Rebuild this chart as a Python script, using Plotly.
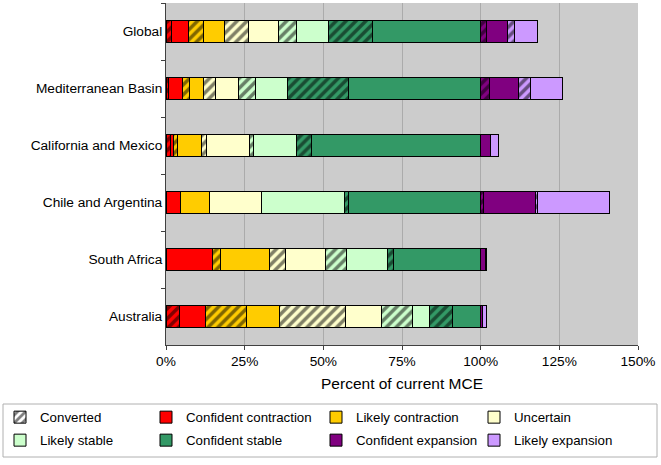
import plotly.graph_objects as go

categories = ["Global", "Mediterranean Basin", "California and Mexico",
              "Chile and Argentina", "South Africa", "Australia"]

conf_contraction_conv = [1.7, 0.9, 1.4, 0.0, 0.0, 4.3]
conf_contraction = [5.3, 4.5, 0.9, 4.7, 14.9, 8.3]
likely_contraction_conv = [4.8, 2.1, 1.2, 0.0, 2.4, 12.9]
likely_contraction = [6.7, 4.5, 7.7, 9.1, 15.6, 10.7]
uncertain_conv = [7.6, 3.7, 1.8, 0.0, 5.1, 20.9]
uncertain = [9.5, 7.4, 13.5, 16.5, 12.7, 11.4]
likely_stable_conv = [5.9, 5.5, 1.2, 0.0, 6.6, 9.7]
likely_stable = [10.0, 10.1, 13.7, 26.5, 13.0, 5.5]
conf_stable_conv = [14.0, 19.4, 4.8, 1.1, 2.1, 7.5]
conf_stable = [34.5, 41.9, 53.8, 42.1, 27.6, 8.8]
conf_expansion_conv = [1.8, 2.9, 0.0, 1.0, 0.0, 0.0]
conf_expansion = [6.6, 9.2, 3.0, 16.4, 1.5, 0.6]
likely_expansion_conv = [2.4, 3.7, 0.0, 0.7, 0.0, 0.0]
likely_expansion = [7.3, 10.1, 2.8, 22.9, 0.5, 1.2]

tick_vals = [0, 25, 50, 75, 100, 125, 150]
tick_text = ["0%", "25%", "50%", "75%", "100%", "125%", "150%"]

# (name, colour, converted part, remaining part, legend slot)
classes = [
    ("Confident contraction", "#FF0000", conf_contraction_conv, conf_contraction, "legend2"),
    ("Likely contraction", "#FFCC00", likely_contraction_conv, likely_contraction, "legend3"),
    ("Uncertain", "#FFFFCC", uncertain_conv, uncertain, "legend4"),
    ("Likely stable", "#CCFFCC", likely_stable_conv, likely_stable, "legend5"),
    ("Confident stable", "#339966", conf_stable_conv, conf_stable, "legend6"),
    ("Confident expansion", "#800080", conf_expansion_conv, conf_expansion, "legend7"),
    ("Likely expansion", "#CC99FF", likely_expansion_conv, likely_expansion, "legend8"),
]

def nz(arr):
    return [v if v else None for v in arr]

fig = go.Figure()
line = dict(color="black", width=1)
pattern = dict(shape="/", fgcolor="black", size=7, solidity=0.5)

# legend-only entry for the converted hatch
fig.add_trace(go.Bar(
    y=categories, x=[None] * len(categories), orientation="h", name="Converted",
    marker=dict(color="white", line=line, pattern=pattern), legend="legend",
))

for name, color, conv, solid, leg in classes:
    fig.add_trace(go.Bar(
        y=categories, x=nz(conv), orientation="h", name=name + " (converted)",
        marker=dict(color=color, line=line, pattern=pattern), showlegend=False,
    ))
    fig.add_trace(go.Bar(
        y=categories, x=nz(solid), orientation="h", name=name,
        marker=dict(color=color, line=line), legend=leg,
    ))

W, H = 661, 465
ML, MR, MT, MB = 166, 23, 3, 120
PW, PH = W - ML - MR, H - MT - MB

leg_font = dict(size=13.3, color="black")
col_x = [0, 146, 316, 474]
row_top = [402, 425]

def leg(col, row):
    return dict(
        orientation="v", xref="container", yref="container",
        x=col_x[col] / W, xanchor="left", y=1 - row_top[row] / H, yanchor="top",
        borderwidth=0, bgcolor="rgba(0,0,0,0)", font=leg_font, itemwidth=30,
    )

fig.update_layout(
    width=W, height=H,
    barmode="stack", bargap=0.61,
    paper_bgcolor="white", plot_bgcolor="#CCCCCC",
    font=dict(family="Liberation Sans, Arial, sans-serif", size=13.7, color="black"),
    margin=dict(l=ML, r=MR, t=MT, b=MB, autoexpand=False),
    showlegend=True,
    legend=leg(0, 0), legend2=leg(1, 0), legend3=leg(2, 0), legend4=leg(3, 0),
    legend5=leg(0, 1), legend6=leg(1, 1), legend7=leg(2, 1), legend8=leg(3, 1),
    xaxis=dict(
        range=[0, 150], tickvals=tick_vals, ticktext=tick_text,
        showgrid=True, gridcolor="#ABABAB", gridwidth=1,
        showline=True, linecolor="#404040", linewidth=1,
        ticks="outside", ticklen=4, tickcolor="#404040",
        title=dict(text="Percent of current MCE", standoff=9, font=dict(size=15.5)),
        zeroline=False, fixedrange=True, automargin=False,
    ),
    yaxis=dict(
        categoryorder="array", categoryarray=categories, autorange="reversed",
        showline=True, linecolor="#404040", linewidth=1,
        ticks="outside", ticklen=4, tickcolor="#404040", tickson="boundaries",
        showgrid=False, fixedrange=True, automargin=False,
    ),
    shapes=[dict(
        type="rect", xref="paper", yref="paper", layer="below",
        x0=(3 - ML) / PW, x1=(657 - ML) / PW,
        y0=(H - MB - 404) / PH, y1=(H - MB - 457) / PH,
        line=dict(color="#B0B0B0", width=1), fillcolor="rgba(0,0,0,0)",
    )],
)

fig.write_html("out.html", config={"displayModeBar": False},
               post_script="document.body.style.margin='0';")
